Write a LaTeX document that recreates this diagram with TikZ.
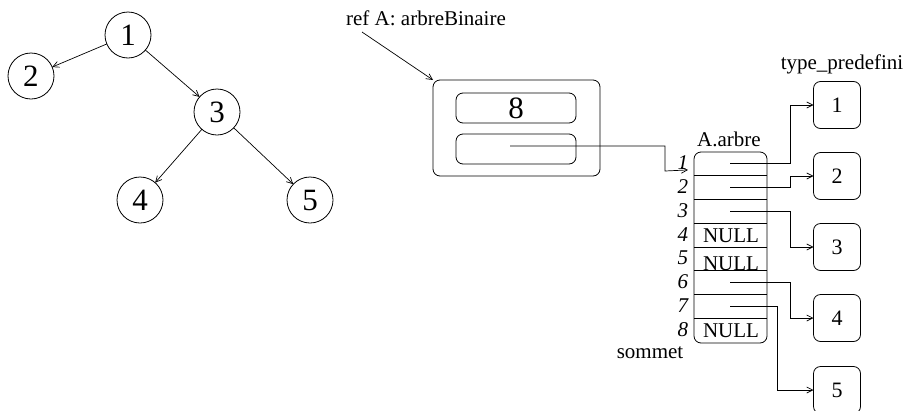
\documentclass[tikz,border=0pt]{standalone}
\usepackage{fontspec}
\setmainfont{Liberation Serif}
\usetikzlibrary{arrows.meta}
\begin{document}
\begin{tikzpicture}[x=1pt,y=-1pt,
  every node/.style={inner sep=0pt,outer sep=0pt},
  tnode/.style={draw,circle,minimum size=46pt,font=\fontsize{31}{32}\selectfont,line width=0.8pt},
  lbl/.style={font=\fontsize{21}{22}\selectfont},
  idx/.style={font=\fontsize{21}{22}\selectfont\itshape,anchor=east},
  vbox/.style={draw,rounded corners=7pt,minimum width=47pt,minimum height=47pt,font=\fontsize{22}{23}\selectfont,line width=0.8pt},
  arr/.style={-{Straight Barb[length=6pt,width=6pt]},line width=0.7pt},
  wire/.style={line width=0.7pt}]
\useasboundingbox (0,0) rectangle (910,410);
% tree
\node[tnode] (t1) at (128,35) {1};
\node[tnode] (t2) at (31,76) {2};
\node[tnode] (t3) at (217,112) {3};
\node[tnode] (t4) at (140,200) {4};
\node[tnode] (t5) at (310,200) {5};
\draw[arr] (t1) -- (t2);
\draw[arr] (t1) -- (t3);
\draw[arr] (t3) -- (t4);
\draw[arr] (t3) -- (t5);
% ref A
\node[lbl] (ref) at (426,18) {ref A: arbreBinaire};
\coordinate (refs) at (362,32);
\node[draw,rounded corners=7pt,minimum width=167pt,minimum height=96pt,line width=0.8pt] (big) at (516.5,128) {};
\node[draw,rounded corners=7pt,minimum width=120pt,minimum height=30pt,font=\fontsize{31}{32}\selectfont,line width=0.8pt] (b8) at (516,108) {8};
\node[draw,rounded corners=7pt,minimum width=120pt,minimum height=30pt,line width=0.8pt] (bp) at (516,149) {};
\draw[arr] (refs) -- (big.north west);
% array
\node[lbl] (aa) at (729,139) {A.arbre};
\node[draw,rounded corners=7pt,minimum width=73pt,minimum height=191pt,line width=0.8pt] (arr) at (730.5,247.5) {};
\foreach \y in {175,199,223,247,270,294,318} \draw[wire] (694,\y) -- (767,\y);
\foreach \i/\y in {1/163,2/187,3/211,4/235,5/258,6/282,7/306,8/330} \node[idx] (i\i) at (688,\y) {\i};
\node[lbl] (n4) at (731,236) {NULL};
\node[lbl] (n5) at (731,264) {NULL};
\node[lbl] (n8) at (731,331) {NULL};
\node[lbl] (som) at (650,353) {sommet};
\coordinate (p1) at (730,163);
\coordinate (p2) at (730,187);
\coordinate (p3) at (730,211);
\coordinate (p6) at (730,282);
\coordinate (p7) at (730,306);
\coordinate (pb) at (510,146);
\draw[arr] (pb) -- (665,146) -- (665,171) -- (i1.south east);
% values
\node[lbl] (tp) at (842,64) {type\_predefini};
\node[vbox] (v1) at (837,105) {1};
\node[vbox] (v2) at (837,176) {2};
\node[vbox] (v3) at (837,247) {3};
\node[vbox] (v4) at (837,318) {4};
\node[vbox] (v5) at (837,390) {5};
\draw[arr] (p1) -- (790,163) |- (v1.west);
\draw[arr] (p2) -- (790,187) |- (v2.west);
\draw[arr] (p3) -- (790,211) |- (v3.west);
\draw[arr] (p6) -- (790,282) |- (v4.west);
\draw[arr] (p7) -- (777,306) |- (v5.west);
\end{tikzpicture}
\end{document}
